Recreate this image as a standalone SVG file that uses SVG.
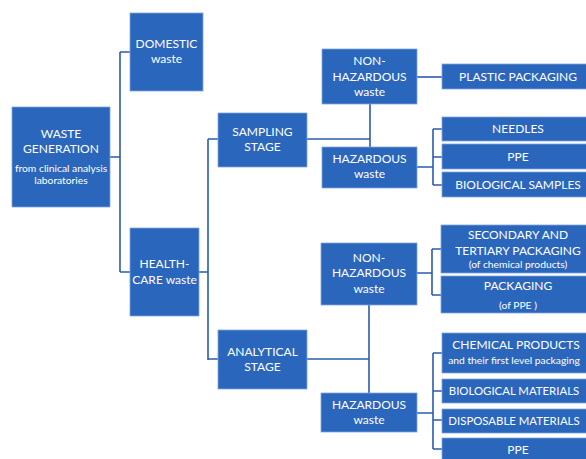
<svg xmlns="http://www.w3.org/2000/svg" width="586" height="459" viewBox="0 0 586 459">
<style>
.b{fill:#2B66BD;stroke:#7FA5DC;stroke-width:0.8}
.t{fill:#fff;font-family:Lato,"Liberation Sans",sans-serif;font-size:12px;text-anchor:middle}
.s{font-size:10.3px}
.n{font-size:11.4px}
.c{fill:none;stroke:#2A5DAE;stroke-width:1.6}
</style>
<rect width="586" height="459" fill="#fff"/>
<g id="connectors">
<path class="c" d="M110,157H120M120,52V272M120,52H130M120,272H130"/>
<path class="c" d="M199,272H208M208,139V360M208,139H218M208,359H218"/>
<path class="c" d="M307,139H370M370,104V147"/>
<path class="c" d="M307,359H369M369,305V393"/>
<path class="c" d="M417,77H442"/>
<path class="c" d="M417,167H433M433,129V185M433,129H442M433,157H442M433,185H442"/>
<path class="c" d="M417,273H432M432,249V295M432,249H441M432,295H441"/>
<path class="c" d="M417,413H433M433,353V449M433,353H442M433,391H442M433,420H442M433,449H442"/>
</g>
<g id="waste-generation"><rect class="b" x="12" y="107" width="98" height="100"/>
<text class="t" x="61" y="138">WASTE</text><text class="t" x="61" y="153">GENERATION</text>
<text class="t s" x="61" y="172">from clinical analysis</text><text class="t s" x="61" y="184">laboratories</text></g>
<g id="domestic"><rect class="b" x="130" y="13" width="73" height="78"/>
<text class="t" x="166.5" y="48">DOMESTIC</text><text class="t" x="166.5" y="63">waste</text></g>
<g id="health-care"><rect class="b" x="130" y="228" width="69" height="88"/>
<text class="t" x="164.5" y="268">HEALTH-</text><text class="t" x="164.5" y="284">CARE waste</text></g>
<g id="sampling"><rect class="b" x="218" y="113" width="89" height="54"/>
<text class="t" x="262.5" y="136">SAMPLING</text><text class="t" x="262.5" y="151">STAGE</text></g>
<g id="nonhaz1"><rect class="b" x="322" y="49" width="95" height="55"/>
<text class="t" x="369.5" y="65">NON-</text><text class="t" x="369.5" y="81">HAZARDOUS</text><text class="t" x="369.5" y="96">waste</text></g>
<g id="haz1"><rect class="b" x="322" y="147" width="95" height="41"/>
<text class="t" x="369.5" y="163">HAZARDOUS</text><text class="t" x="369.5" y="178">waste</text></g>
<g id="plastic"><rect class="b" x="442" y="64" width="152" height="25"/><text class="t" x="518" y="81">PLASTIC PACKAGING</text></g>
<g id="needles"><rect class="b" x="442" y="117" width="152" height="24"/><text class="t" x="518" y="133">NEEDLES</text></g>
<g id="ppe1"><rect class="b" x="442" y="144" width="152" height="25"/><text class="t" x="518" y="161">PPE</text></g>
<g id="bio-samples"><rect class="b" x="442" y="172" width="152" height="25"/><text class="t" x="518" y="189">BIOLOGICAL SAMPLES</text></g>
<g id="analytical"><rect class="b" x="218" y="330" width="89" height="59"/>
<text class="t" x="262.5" y="356">ANALYTICAL</text><text class="t" x="262.5" y="371">STAGE</text></g>
<g id="nonhaz2"><rect class="b" x="321" y="243" width="96" height="62"/>
<text class="t" x="369" y="262">NON-</text><text class="t" x="369" y="277">HAZARDOUS</text><text class="t" x="369" y="293">waste</text></g>
<g id="haz2"><rect class="b" x="321" y="393" width="96" height="39"/>
<text class="t" x="369" y="409">HAZARDOUS</text><text class="t" x="369" y="424">waste</text></g>
<g id="secondary"><rect class="b" x="441" y="225" width="153" height="48"/>
<text class="t" x="518" y="239">SECONDARY AND</text><text class="t" x="518" y="255">TERTIARY PACKAGING</text><text class="t s" x="518" y="268">(of chemical products)</text></g>
<g id="packaging"><rect class="b" x="441" y="276" width="153" height="37"/>
<text class="t" x="518" y="290">PACKAGING</text><text class="t s" x="518" y="309">(of PPE )</text></g>
<g id="chemical"><rect class="b" x="442" y="333" width="152" height="40"/>
<text class="t" x="516" y="349">CHEMICAL PRODUCTS</text><text class="t s" x="514" y="364">and their first level packaging</text></g>
<g id="bio-materials"><rect class="b" x="442" y="379" width="152" height="24"/><text class="t n" x="514" y="395">BIOLOGICAL MATERIALS</text></g>
<g id="disposable"><rect class="b" x="442" y="409" width="152" height="24"/><text class="t n" x="514" y="425">DISPOSABLE MATERIALS</text></g>
<g id="ppe2"><rect class="b" x="442" y="438" width="152" height="26"/><text class="t" x="518" y="454">PPE</text></g>
</svg>
